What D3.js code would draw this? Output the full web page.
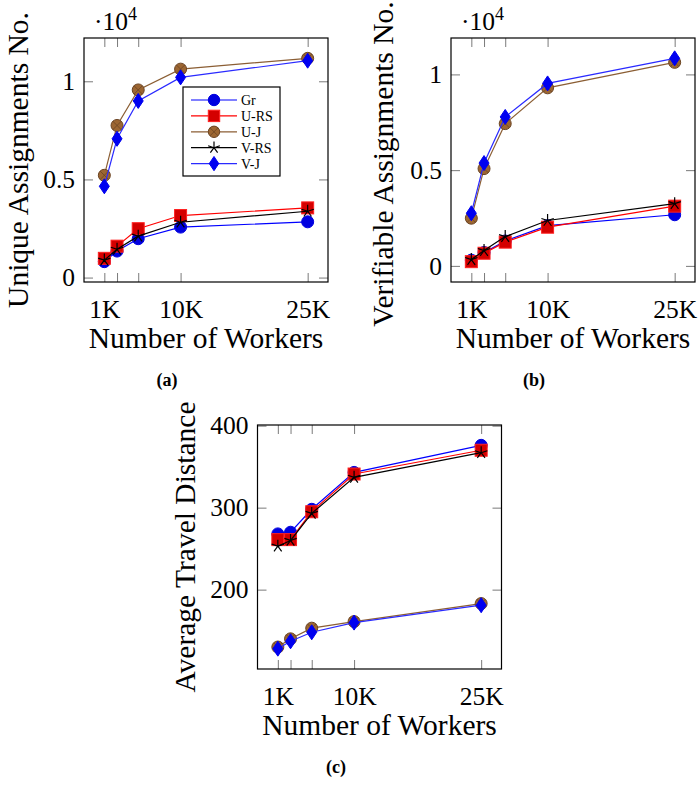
<!DOCTYPE html>
<html>
<head>
<meta charset="utf-8">
<script src="https://cdn.jsdelivr.net/npm/d3@7"></script>
<style>
  html, body { margin: 0; padding: 0; background: #fff; }
  svg { display: block; }
  text { font-family: "Liberation Serif", "Times New Roman", serif; fill: #000; }
</style>
</head>
<body>
<svg id="chart" width="699" height="785"></svg>
<script>
// ---------------- DATA ----------------
const workers = [1, 2.5, 5, 10, 25];           // thousands of workers
const xTickLabels = {1: "1K", 10: "10K", 25: "25K"};
const seriesNames = ["Gr", "U-RS", "U-J", "V-RS", "V-J"];

// (a) Unique Assignments No. (x 10^4)
const uniqueGr  = [0.081, 0.135, 0.198, 0.257, 0.284];
const uniqueURS = [0.098, 0.160, 0.249, 0.316, 0.355];
const uniqueUJ  = [0.521, 0.775, 0.956, 1.062, 1.117];
const uniqueVRS = [0.089, 0.144, 0.211, 0.282, 0.338];
const uniqueVJ  = [0.465, 0.707, 0.900, 1.020, 1.105];
const uniqueTicks = [0, 0.5, 1];
const uniqueTickLabels = ["0", "0.5", "1"];

// (b) Verifiable Assignments No. (x 10^4)
const verifGr  = [0.030, 0.070, 0.130, 0.210, 0.267];
const verifURS = [0.022, 0.066, 0.124, 0.202, 0.312];
const verifUJ  = [0.249, 0.508, 0.743, 0.930, 1.063];
const verifVRS = [0.033, 0.080, 0.153, 0.237, 0.325];
const verifVJ  = [0.275, 0.537, 0.778, 0.953, 1.084];
const verifTicks = [0, 0.5, 1];
const verifTickLabels = ["0", "0.5", "1"];

// (c) Average Travel Distance
const distGr  = [268, 270, 298, 343, 376];
const distURS = [261, 261, 295, 341, 370];
const distUJ  = [130, 140, 153, 161, 183];
const distVRS = [253, 260, 293, 337, 367];
const distVJ  = [128, 137, 148, 159.8, 181];
const distTicks = [200, 300, 400];
const distTickLabels = ["200", "300", "400"];

// ---------------- STYLE ----------------
const styles = {
  "Gr":   {line: "#0000ff", fill: "#0000e0", stroke: "#0000e0", mark: "circle"},
  "U-RS": {line: "#ff0000", fill: "#d40000", stroke: "#ff2020", mark: "square"},
  "U-J":  {line: "#8b5e34", fill: "#9c6632", stroke: "#6b4423", mark: "otimes"},
  "V-RS": {line: "#000000", fill: "none",    stroke: "#000000", mark: "star"},
  "V-J":  {line: "#2a2aff", fill: "#0000f0", stroke: "#0000f0", mark: "diamond"}
};

const svg = d3.select("#chart");
const FONT_TICK = 25.5, FONT_LABEL = 29.5;

function drawMarker(g, type, cx, cy, st, s) {
  s = s || 1;
  if (type === "circle") {
    g.append("circle").attr("cx", cx).attr("cy", cy).attr("r", 6 * s)
      .attr("fill", st.fill).attr("stroke", st.stroke).attr("stroke-width", 1);
  } else if (type === "square") {
    const h = 6 * s;
    g.append("rect").attr("x", cx - h).attr("y", cy - h).attr("width", 2 * h).attr("height", 2 * h)
      .attr("fill", st.fill).attr("stroke", st.stroke).attr("stroke-width", 1);
  } else if (type === "otimes") {
    const r = 6 * s;
    g.append("circle").attr("cx", cx).attr("cy", cy).attr("r", r)
      .attr("fill", st.fill).attr("stroke", st.stroke).attr("stroke-width", 1);
    const d = r * 0.7071;
    g.append("path").attr("d", `M${cx - d},${cy - d}L${cx + d},${cy + d}M${cx - d},${cy + d}L${cx + d},${cy - d}`)
      .attr("stroke", st.stroke).attr("stroke-width", 0.8);
  } else if (type === "star") {
    const r = 6.5 * s;
    let p = "";
    for (let i = 0; i < 5; i++) {
      const a = -Math.PI / 2 + i * 2 * Math.PI / 5;
      p += `M${cx},${cy}L${cx + r * Math.cos(a)},${cy + r * Math.sin(a)}`;
    }
    g.append("path").attr("d", p).attr("stroke", st.stroke).attr("stroke-width", 1.2).attr("fill", "none");
  } else if (type === "diamond") {
    const w = 5 * s, h = 7.5 * s;
    g.append("path").attr("d", `M${cx},${cy - h}L${cx + w},${cy}L${cx},${cy + h}L${cx - w},${cy}Z`)
      .attr("fill", st.fill).attr("stroke", st.stroke).attr("stroke-width", 1);
  }
}

function drawPanel(cfg) {
  const {left, top, size, seriesData, yTicks, yTickLabels, yLabel, caption, exponent} = cfg;
  const right = left + size, bottom = top + size;

  const xMin = d3.min(workers), xMax = d3.max(workers), xPad = (xMax - xMin) * 0.1;
  const x = d3.scaleLinear().domain([xMin - xPad, xMax + xPad]).range([left, right]);

  const allY = seriesData.flat();
  const yMin = d3.min(allY), yMax = d3.max(allY), yPad = (yMax - yMin) * 0.1;
  const y = d3.scaleLinear().domain([yMin - yPad, yMax + yPad]).range([bottom, top]);

  const g = svg.append("g");

  const tickLen = 9;
  const axB = g.append("g").attr("transform", `translate(0,${bottom})`)
    .call(d3.axisBottom(x).tickValues(workers).tickSize(-tickLen)
      .tickPadding(tickLen + 9)
      .tickFormat(d => xTickLabels[d] || ""));
  const axT = g.append("g").attr("transform", `translate(0,${top})`)
    .call(d3.axisTop(x).tickValues(workers).tickSize(-tickLen).tickFormat(""));
  const axL = g.append("g").attr("transform", `translate(${left},0)`)
    .call(d3.axisLeft(y).tickValues(yTicks).tickSize(-tickLen).tickPadding(9)
      .tickFormat((d, i) => yTickLabels[i]));
  const axR = g.append("g").attr("transform", `translate(${right},0)`)
    .call(d3.axisRight(y).tickValues(yTicks).tickSize(-tickLen).tickFormat(""));
  [axB, axT, axL, axR].forEach(a => {
    a.select(".domain").remove();
    a.selectAll(".tick line").attr("stroke", "#7a7a7a").attr("stroke-width", 1);
    a.selectAll("text").attr("font-size", FONT_TICK)
      .attr("font-family", '"Liberation Serif", "Times New Roman", serif').attr("fill", "#000");
  });
  axB.selectAll("text").attr("dy", "0.72em");

  seriesData.forEach((vals, si) => {
    const name = seriesNames[si], st = styles[name];
    const pts = workers.map((w, i) => [x(w), y(vals[i])]);
    g.append("path").attr("d", d3.line()(pts))
      .attr("fill", "none").attr("stroke", st.line).attr("stroke-width", 1.2);
    const mg = g.append("g");
    pts.forEach(p => drawMarker(mg, st.mark, p[0], p[1], st));
  });

  g.append("rect").attr("x", left).attr("y", top).attr("width", size).attr("height", size)
    .attr("fill", "none").attr("stroke", "#000").attr("stroke-width", 1.2);

  g.append("text").attr("x", (left + right) / 2).attr("y", bottom + 66)
    .attr("text-anchor", "middle").attr("font-size", FONT_LABEL).text("Number of Workers");
  g.append("text").attr("transform", `translate(${cfg.yLabelX},${(top + bottom) / 2 + (cfg.yLabelShift || 0)}) rotate(-90)`)
    .attr("text-anchor", "middle").attr("font-size", FONT_LABEL).text(yLabel);
  g.append("text").attr("x", cfg.captionX).attr("y", bottom + 104)
    .attr("text-anchor", "middle").attr("font-size", 18).attr("font-weight", "bold").text(caption);
  if (exponent) {
    const t = g.append("text").attr("x", left + 10).attr("y", top - 8).attr("font-size", FONT_TICK);
    t.append("tspan").text("\u00b710");
    t.append("tspan").attr("dy", -10).attr("font-size", 18).text("4");
  }
}

function drawLegend(lx, ly) {
  const g = svg.append("g");
  const w = 97, h = 89;
  g.append("rect").attr("x", lx).attr("y", ly).attr("width", w).attr("height", h)
    .attr("fill", "#fff").attr("stroke", "#000").attr("stroke-width", 1.2);
  seriesNames.forEach((name, i) => {
    const st = styles[name];
    const cy = ly + 13 + i * 15.9;
    g.append("line").attr("x1", lx + 8).attr("x2", lx + 54).attr("y1", cy).attr("y2", cy)
      .attr("stroke", st.line).attr("stroke-width", 1.2);
    drawMarker(g, st.mark, lx + 31, cy, st, 0.95);
    g.append("text").attr("x", lx + 58).attr("y", cy).attr("dy", "0.35em")
      .attr("font-size", 14).text(name);
  });
}

drawPanel({left: 84, top: 38, size: 244,
  seriesData: [uniqueGr, uniqueURS, uniqueUJ, uniqueVRS, uniqueVJ],
  yTicks: uniqueTicks, yTickLabels: uniqueTickLabels,
  yLabel: "Unique Assignments No.", yLabelX: 28, caption: "(a)", captionX: 167, exponent: true});
drawLegend(183, 87);
drawPanel({left: 451, top: 38, size: 244,
  seriesData: [verifGr, verifURS, verifUJ, verifVRS, verifVJ],
  yTicks: verifTicks, yTickLabels: verifTickLabels,
  yLabel: "Verifiable Assignments No.", yLabelX: 393, yLabelShift: 4, caption: "(b)", captionX: 534, exponent: true});
drawPanel({left: 257.5, top: 425, size: 244,
  seriesData: [distGr, distURS, distUJ, distVRS, distVJ],
  yTicks: distTicks, yTickLabels: distTickLabels,
  yLabel: "Average Travel Distance", yLabelX: 195, caption: "(c)", captionX: 336, exponent: false});
</script>
</body>
</html>
